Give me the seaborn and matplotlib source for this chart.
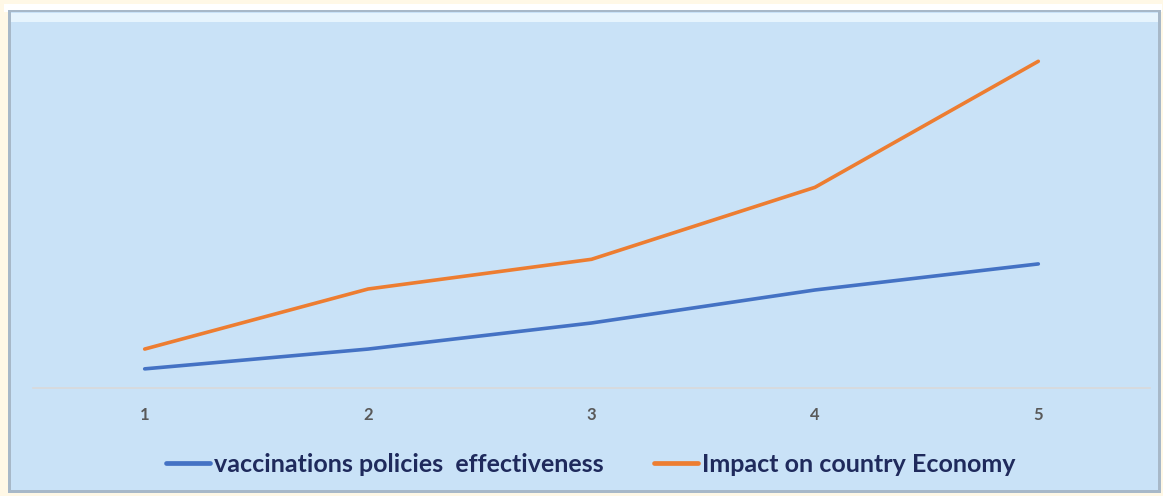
import numpy as np
import pandas as pd
import matplotlib
matplotlib.use('Agg')
import matplotlib.pyplot as plt
from matplotlib.patches import Rectangle
import seaborn as sns

# values (no y axis shown, units arbitrary)
periods = [1, 2, 3, 4, 5]
vaccination = [0.58, 1.18, 1.97, 2.97, 3.76]
economy = [1.18, 3.0, 3.9, 6.08, 9.9]
series_names = ['vaccinations policies  effectiveness', 'Impact on country Economy']
line_colors = ['#4472C4', '#ED7D31']

df = pd.DataFrame({
    'period': periods * 2,
    'value': vaccination + economy,
    'series': [series_names[0]] * 5 + [series_names[1]] * 5,
})

sns.set_theme(style='white')
plt.rcParams['font.family'] = ['Lato', 'DejaVu Sans']

fig = plt.figure(figsize=(11.63, 4.96), dpi=100)
fig.patch.set_facecolor('#FFF8E6')

W, H = 1163, 496
# panel behind the chart with a soft bevel
bg = [
    ((4, 12, 1158, 8), '#FFFFFF'),
    ((8, 493, 1153, 483), '#A7B8C8'),
    ((11, 490, 1147, 478), '#C9E2F7'),
    ((11, 22, 1147, 9), '#E6F4FD'),
]
for (x0, y0, w, h), col in bg:
    fig.patches.append(Rectangle((x0 / W, 1 - y0 / H), w / W, h / H, transform=fig.transFigure,
                                 facecolor=col, edgecolor='none', zorder=-5))

ax = fig.add_axes([33 / W, 1 - 388 / H, 1117 / W, 363 / H])
ax.set_facecolor('none')
ax.set_zorder(2)

sns.lineplot(data=df, x='period', y='value', hue='series', palette=line_colors,
             linewidth=2.6, ax=ax, legend=False)
for ln in ax.lines:
    ln.set_solid_capstyle('round')

ax.set_xlim(0.5, 5.5)
ax.set_ylim(0, 363 / 33)
ax.set_xticks(periods)
ax.set_xticklabels([str(p) for p in periods], color='#595959', fontsize=12, fontweight='bold')
ax.tick_params(axis='x', length=0, pad=14)
ax.set_yticks([])
ax.set_xlabel('')
ax.set_ylabel('')
for s in ['top', 'right', 'left']:
    ax.spines[s].set_visible(False)
ax.spines['bottom'].set_color('#D9D9D9')
ax.spines['bottom'].set_linewidth(1.2)

handles = [plt.Line2D([], [], color=c, linewidth=3.4, solid_capstyle='round') for c in line_colors]
leg = fig.legend(handles, series_names, loc='center', bbox_to_anchor=(0.508, 1 - 464 / H),
                 ncol=2, frameon=False, handlelength=1.75, handletextpad=0.18, columnspacing=2.0,
                 prop={'size': 18, 'weight': 'bold'})
for t in leg.get_texts():
    t.set_color('#1F2A5C')

fig.savefig('out.png', dpi=100, facecolor=fig.get_facecolor())
